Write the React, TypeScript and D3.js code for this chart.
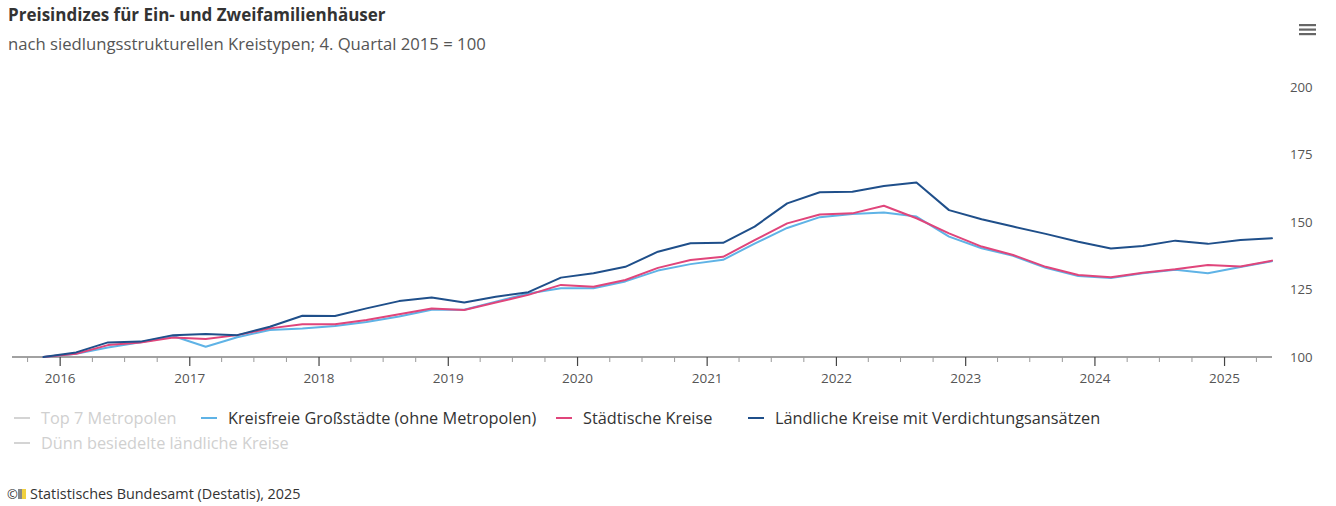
import React from "react";
import * as d3 from "d3";

const quarters = [
  "2015-Q4",
  "2016-Q1", "2016-Q2", "2016-Q3", "2016-Q4",
  "2017-Q1", "2017-Q2", "2017-Q3", "2017-Q4",
  "2018-Q1", "2018-Q2", "2018-Q3", "2018-Q4",
  "2019-Q1", "2019-Q2", "2019-Q3", "2019-Q4",
  "2020-Q1", "2020-Q2", "2020-Q3", "2020-Q4",
  "2021-Q1", "2021-Q2", "2021-Q3", "2021-Q4",
  "2022-Q1", "2022-Q2", "2022-Q3", "2022-Q4",
  "2023-Q1", "2023-Q2", "2023-Q3", "2023-Q4",
  "2024-Q1", "2024-Q2", "2024-Q3", "2024-Q4",
  "2025-Q1", "2025-Q2",
];

const kreisfreie = [
  100, 101.2, 103.5, 105.5, 107.8, 103.8, 107.3, 110, 110.6, 111.5, 113, 115, 117.5,
  117.5, 120.5, 123.5, 125.5, 125.5, 128, 132, 134.4, 136, 142, 147.8, 151.8, 153,
  153.5, 152, 144.6, 140.3, 137.5, 133, 130, 129.3, 131, 132.3, 131, 133.3, 135.5,
];

const staedtische = [
  100, 101.2, 104.4, 105.4, 107.2, 106.7, 108.1, 110.6, 112.1, 112.1, 113.7, 115.8, 118,
  117.4, 120.2, 123, 126.7, 126, 128.5, 133, 135.9, 137.1, 143.3, 149.5, 152.8, 153.2,
  156, 151.4, 145.8, 140.9, 137.8, 133.4, 130.4, 129.5, 131.2, 132.5, 134.1, 133.5, 135.7,
];

const laendliche = [
  100, 101.7, 105.4, 105.7, 108.1, 108.5, 108.1, 111.2, 115.3, 115.2, 118, 120.7, 122,
  120.2, 122.3, 124, 129.4, 131, 133.4, 139, 142.1, 142.3, 148.3, 156.9, 161, 161.2,
  163.3, 164.6, 154.4, 151, 148.3, 145.6, 142.7, 140.2, 141.1, 143.1, 141.9, 143.3, 144,
];

const yTicks = [100, 125, 150, 175, 200];
const yearTicks = [2016, 2017, 2018, 2019, 2020, 2021, 2022, 2023, 2024, 2025];

const seriesNames = [
  "Top 7 Metropolen",
  "Kreisfreie Großstädte (ohne Metropolen)",
  "Städtische Kreise",
  "Ländliche Kreise mit Verdichtungsansätzen",
  "Dünn besiedelte ländliche Kreise",
];

const title = "Preisindizes für Ein- und Zweifamilienhäuser";
const subtitle = "nach siedlungsstrukturellen Kreistypen; 4. Quartal 2015 = 100";
const credit = "Statistisches Bundesamt (Destatis), 2025";

const FONT = "'Open Sans', 'Noto Sans', sans-serif";

function quarterDate(q: string): Date {
  const [y, qq] = q.split("-Q");
  const month = (Number(qq) - 1) * 3 + 1; // middle month of quarter
  return new Date(Number(y), month, 15);
}

export default function App() {
  const W = 1336;
  const H = 506;
  const x = d3
    .scaleTime()
    .domain([new Date(2015, 7, 18), new Date(2025, 4, 15)])
    .range([12, 1272]);
  const y = d3.scaleLinear().domain([100, 200]).range([357, 87]);
  const dates = quarters.map(quarterDate);

  const line = d3
    .line<number>()
    .x((_, i) => x(dates[i]))
    .y((d) => y(d));

  const series = [
    { name: seriesNames[1], data: kreisfreie, color: "#5fb3e6" },
    { name: seriesNames[2], data: staedtische, color: "#e0457b" },
    { name: seriesNames[3], data: laendliche, color: "#1f4f8a" },
  ];

  const minorTicks = x.ticks(d3.timeMonth.every(3)!).filter((d) => d.getMonth() !== 0);

  const legendRow1 = [
    { name: seriesNames[0], color: "#d4d4d4", text: "#d0d0d0", x: 14 },
    { name: seriesNames[1], color: "#5fb3e6", text: "#333333", x: 201 },
    { name: seriesNames[2], color: "#e0457b", text: "#333333", x: 556 },
    { name: seriesNames[3], color: "#1f4f8a", text: "#333333", x: 748 },
  ];
  const legendRow2 = [{ name: seriesNames[4], color: "#d4d4d4", text: "#d0d0d0", x: 14 }];

  return (
    <svg width={W} height={H} style={{ position: "absolute", left: 0, top: 0, fontFamily: FONT }}>
      <rect width={W} height={H} fill="#ffffff" />
      <text x={8} y={21} fontSize={17} fontWeight={700} fill="#333333">
        {title}
      </text>
      <text x={8} y={50} fontSize={16.7} fill="#555555">
        {subtitle}
      </text>
      {/* menu icon */}
      <g fill="#666666">
        {[0, 1, 2].map((k) => (
          <rect key={k} x={1299} y={24 + k * 4.5} width={17} height={2.2} />
        ))}
      </g>

      {/* y axis labels */}
      {yTicks.map((t) => (
        <text key={t} x={1290} y={y(t) + 4.5} fontSize={13.2} fill="#555555">
          {t}
        </text>
      ))}

      {/* x axis */}
      <line x1={12} x2={1272} y1={357} y2={357} stroke="#444444" strokeWidth={1.2} />
      {minorTicks.map((d, i) => (
        <line key={i} x1={x(d)} x2={x(d)} y1={357} y2={362} stroke="#999999" strokeWidth={1} />
      ))}
      {yearTicks.map((yr) => {
        const px = x(new Date(yr, 0, 1));
        return (
          <g key={yr}>
            <line x1={px} x2={px} y1={357} y2={366} stroke="#444444" strokeWidth={1.2} />
            <text x={px} y={383} fontSize={13.5} textAnchor="middle" fill="#555555">
              {yr}
            </text>
          </g>
        );
      })}

      {/* lines */}
      {series.map((s) => (
        <path
          key={s.name}
          d={line(s.data) || ""}
          fill="none"
          stroke={s.color}
          strokeWidth={2}
          strokeLinejoin="round"
          strokeLinecap="round"
        />
      ))}

      {/* legend */}
      {legendRow1.map((l) => (
        <g key={l.name}>
          <line x1={l.x} x2={l.x + 16} y1={418} y2={418} stroke={l.color} strokeWidth={2} />
          <text x={l.x + 27} y={423.5} fontSize={16.3} fill={l.text}>
            {l.name}
          </text>
        </g>
      ))}
      {legendRow2.map((l) => (
        <g key={l.name}>
          <line x1={l.x} x2={l.x + 16} y1={443} y2={443} stroke={l.color} strokeWidth={2} />
          <text x={l.x + 27} y={448.5} fontSize={16.3} fill={l.text}>
            {l.name}
          </text>
        </g>
      ))}

      {/* credits */}
      <text x={7} y={499} fontSize={13} fill="#333333">
        ©
      </text>
      <rect x={18} y={489} width={4} height={10} fill="#888888" />
      <rect x={22} y={489} width={4} height={10} fill="#f0d040" />
      <text x={30} y={499} fontSize={14.4} fill="#333333">
        {credit}
      </text>
    </svg>
  );
}
